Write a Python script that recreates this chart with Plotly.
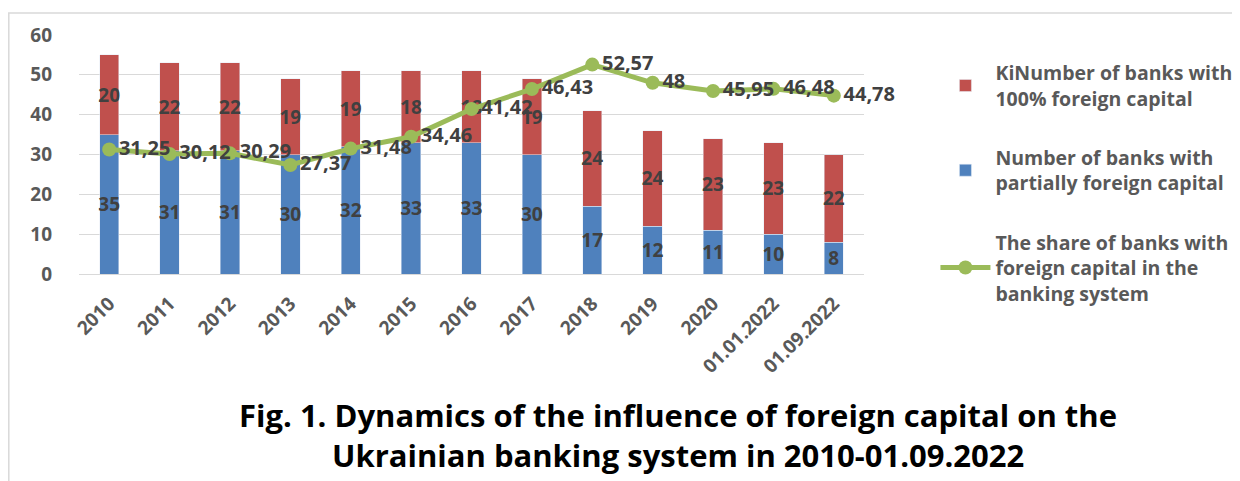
import plotly.graph_objects as go

categories = ["2010", "2011", "2012", "2013", "2014", "2015", "2016", "2017",
              "2018", "2019", "2020", "01.01.2022", "01.09.2022"]
partial_foreign = [35, 31, 31, 30, 32, 33, 33, 30, 17, 12, 11, 10, 8]
full_foreign = [20, 22, 22, 19, 19, 18, 18, 19, 24, 24, 23, 23, 22]
share_foreign = [31.25, 30.12, 30.29, 27.37, 31.48, 34.46, 41.42, 46.43,
                 52.57, 48, 45.95, 46.48, 44.78]

name_full = "KiNumber of banks with<br>100% foreign capital"
name_partial = "Number of banks with<br>partially foreign capital"
name_share = "The share of banks with<br>foreign capital in the<br>banking system"
title_lines = ["Fig. 1. Dynamics of the influence of foreign capital on the",
               "Ukrainian banking system in 2010-01.09.2022"]

FONT = "Open Sans"
bar_font = dict(family=FONT, size=19, color="#404040", weight="bold")
line_font = dict(family=FONT, size=20, color="#404040", weight="bold")


def fmt(v):
    s = ("%.2f" % v).rstrip("0").rstrip(".")
    return s.replace(".", ",")


fig = go.Figure()
fig.add_trace(go.Bar(
    x=categories, y=partial_foreign, name=name_partial,
    marker=dict(color="#4F81BD"), width=0.32,
    text=[str(v) for v in partial_foreign], textposition="inside",
    insidetextanchor="middle", constraintext="none",
    textfont=bar_font, legendrank=2, legendgroup="b",
    hoverinfo="skip",
))
fig.add_trace(go.Bar(
    x=categories, y=full_foreign, name=name_full,
    marker=dict(color="#C0504D"), width=0.32,
    text=[str(v) for v in full_foreign], textposition="inside",
    insidetextanchor="middle", constraintext="none",
    textfont=bar_font, legendrank=1, legendgroup="a",
    hoverinfo="skip",
))
fig.add_trace(go.Scatter(
    x=categories, y=share_foreign, name=name_share,
    mode="lines+markers+text",
    line=dict(color="#9BBB59", width=5),
    marker=dict(color="#9BBB59", size=14),
    text=[fmt(v) for v in share_foreign], textposition="middle right",
    textfont=line_font, legendrank=3, legendgroup="c",
    cliponaxis=False, hoverinfo="skip",
))

# page has an 8px body margin: figure pixel = page pixel - 8
W, H = 1232, 473
L, T, PW, PH = 71, 27, 785, 239


def px_x(p):
    return (p - L) / PW


def px_y(p):
    return (T + PH - p) / PH


title_font = dict(family=FONT, size=31, color="#000000", weight="bold")
title_ann = [
    dict(text=title_lines[0], xref="paper", yref="paper", x=px_x(670), y=px_y(407),
         xanchor="center", yanchor="middle", showarrow=False, font=title_font),
    dict(text=title_lines[1], xref="paper", yref="paper", x=px_x(670), y=px_y(447),
         xanchor="center", yanchor="middle", showarrow=False, font=title_font),
]

fig.update_layout(
    width=W, height=H,
    margin=dict(l=L, r=W - L - PW, t=T, b=H - T - PH, autoexpand=False),
    barmode="stack",
    paper_bgcolor="white", plot_bgcolor="white",
    font=dict(family=FONT, color="#595959"),
    xaxis=dict(type="category", range=[-0.5, 12.5], tickangle=-45,
               tickfont=dict(family=FONT, size=19, color="#595959", weight="bold"),
               showgrid=False, showline=True, linecolor="#D9D9D9", linewidth=1.3,
               ticks="", automargin=False, ticklabelstandoff=10),
    yaxis=dict(range=[0, 60], dtick=10, showgrid=True, gridcolor="#D9D9D9",
               gridwidth=1.3, zeroline=False, showline=False, ticks="",
               tickfont=dict(family=FONT, size=19, color="#595959", weight="bold"),
               ticklabelstandoff=26, automargin=False),
    legend=dict(x=1.091, xanchor="left", y=0.922, yanchor="top",
                traceorder="grouped", tracegroupgap=31, itemwidth=50,
                maxheight=420,
                font=dict(family=FONT, size=19.5, color="#595959", weight="bold"),
                bgcolor="rgba(0,0,0,0)"),
    showlegend=True,
    annotations=title_ann,
    shapes=[dict(type="rect", xref="paper", yref="paper",
                 x0=px_x(0.8), x1=px_x(1300),
                 y0=px_y(600), y1=px_y(5),
                 line=dict(color="#D9D9D9", width=1.5), fillcolor="rgba(0,0,0,0)",
                 layer="below")],
)

fig.write_html("out.html")
